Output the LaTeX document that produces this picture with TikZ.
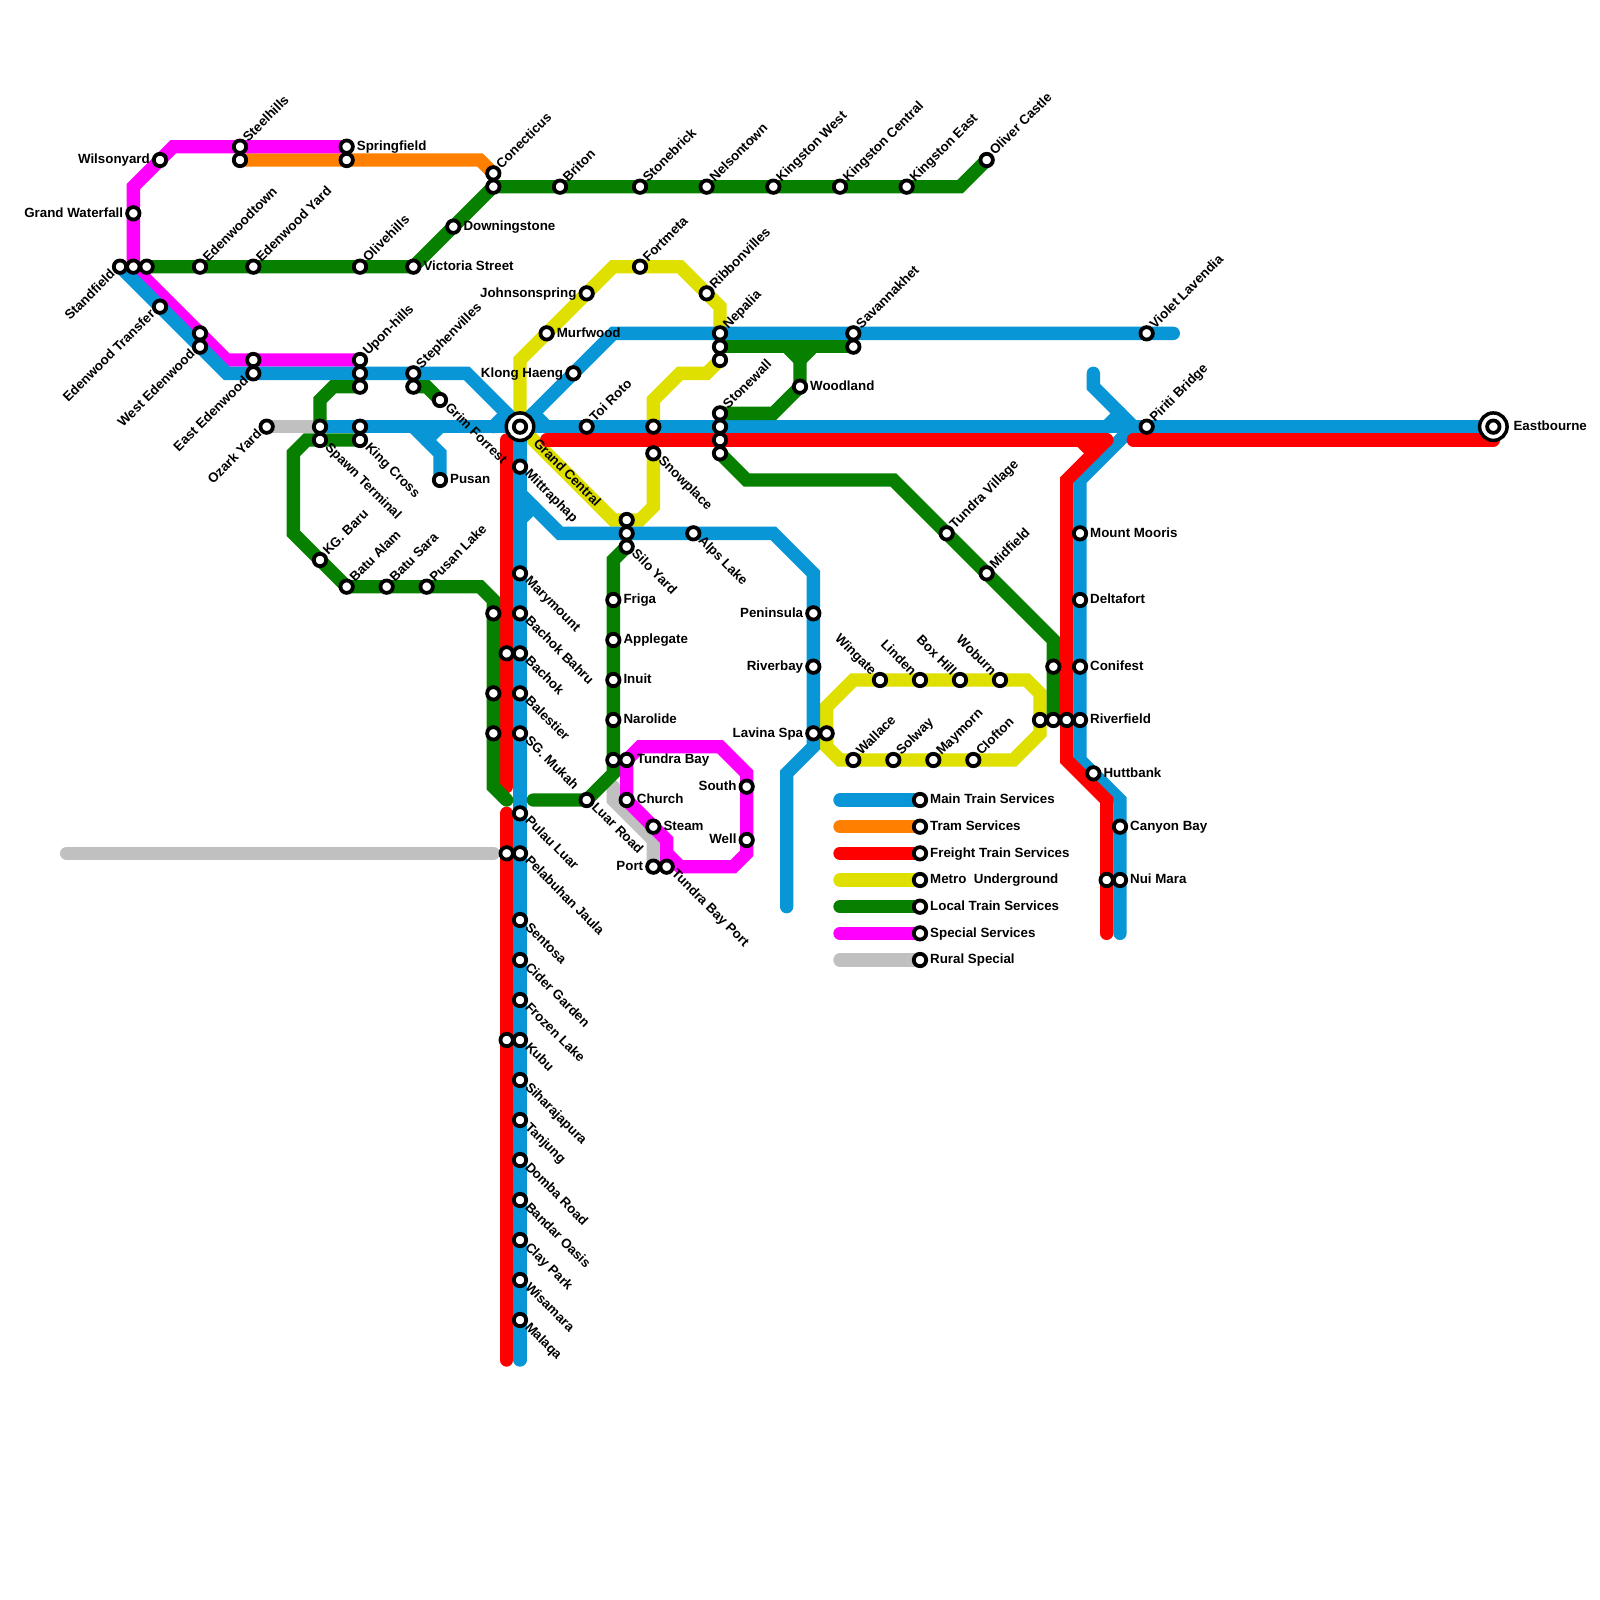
\documentclass[tikz,border=0pt]{standalone}
\usepackage{fontspec}
\setmainfont{Liberation Sans}[BoldFont={* Bold}]
\definecolor{mblue}{HTML}{0896D7}
\definecolor{mgreen}{HTML}{078000}
\definecolor{mred}{HTML}{FF0000}
\definecolor{morange}{HTML}{FF8000}
\definecolor{myellow}{HTML}{E0E000}
\definecolor{mpink}{HTML}{FF00FF}
\definecolor{mgrey}{HTML}{C0C0C0}
\tikzset{
  route/.style={line width=13.333pt,line cap=round,line join=miter,miter limit=10},
  stn/.style={circle,draw=black,fill=white,line width=3.8pt,minimum size=12.4pt,inner sep=0pt},
  hub/.style={circle,draw=black,fill=white,line width=3.5pt,minimum size=27.5pt,inner sep=0pt},
  lbl/.style={font=\bfseries\fontsize{13.333}{14}\selectfont,inner sep=0pt,text height=9.6pt,text depth=0pt,text=black},
  lblR/.style={lbl,anchor=west,xshift=10pt,yshift=1pt},
  lblRR/.style={lbl,anchor=west,xshift=20pt,yshift=1pt},
  lblL/.style={lbl,anchor=east,xshift=-10pt,yshift=1pt},
  lblUR/.style={xshift=4.8pt,yshift=7.4pt,lbl,anchor=west,rotate=45},
  lblDR/.style={xshift=7.8pt,yshift=-4.5pt,lbl,anchor=west,rotate=-45},
  lblDRR/.style={xshift=16pt,yshift=-14pt,lbl,anchor=west,rotate=-45},
  lblDL/.style={xshift=-7.5pt,yshift=-5pt,lbl,anchor=east,rotate=45},
  lblUL/.style={xshift=-5.5pt,yshift=7.2pt,lbl,anchor=east,rotate=-45},
}
\newcommand{\sta}[4]{\node[stn] (s#1-#2) at (#1,#2) {};\node[#3] (t#1-#2) at (#1,#2) {#4};}
\newcommand{\bare}[2]{\node[stn] (s#1-#2) at (#1,#2) {};}
\begin{document}
\begin{tikzpicture}[x=13.3333pt,y=-13.3333pt]
\path[use as bounding box,fill=white] (0,0) rectangle (120,120);
\foreach \x/\y in {20/32,24/32,5/64,37/64,46/59,46/60,49/63,49/65,18/12,36/12,37/13,
 54/25,54/23,51/20,46/20,39/27,39/32,46/39,48/39,49/38,49/34,49/32,49/30,51/28,53/28,54/27,
 62/53,64/51,77/51,78/52,78/55,76/57,63/57,62/56,
 26/11,13/11,10/14,10/20,17/27,27/27,
 50/65,50/63,47/60,47/57,48/56,54/56,56/58,56/64,55/65,51/65,50/64,
 9/20,17/28,35/28,46/25,88/25,112/32,39/102,31/32,33/34,33/36,32/33,33/32,37/32,38/31,40/31,41/32,
 39/37,42/40,58/40,61/43,61/56,59/58,59/68,40/38,39/39,82/28,82/29,85/32,81/36,81/57,84/60,84/70,83/32,84/31,
 11/20,31/20,37/14,72/14,74/12,27/29,25/29,24/30,31/29,32/29,33/30,27/33,23/33,22/34,22/40,26/44,36/44,37/45,37/59,38/60,
 47/41,46/42,46/58,44/60,40/60,54/26,64/26,59/26,60/27,61/26,60/29,58/31,54/31,54/34,56/36,67/36,79/48,79/54,
 38/33,38/59,38/61,38/102,41/33,83/33,80/36,80/57,83/60,83/70,85/33,112/33,81/33,82/34,
 63/60,69/60,63/62,69/62,63/64,69/64,63/66,69/66,63/68,69/68,63/70,69/70,63/72,69/72}
 {\coordinate (c\x-\y) at (\x,\y);}
% grey
\draw[route,mgrey] (c20-32)--(c24-32);
\draw[route,mgrey] (c5-64)--(c37-64);
\draw[route,mgrey] (c46-59)--(c46-60)--(c49-63)--(c49-65);
\draw[route,mgrey] (c63-72)--(c69-72);
% orange
\draw[route,morange] (c18-12)--(c36-12)--(c37-13);
\draw[route,morange] (c63-62)--(c69-62);
% yellow
\draw[route,myellow] (c54-25)--(c54-23)--(c51-20)--(c46-20)--(c39-27)--(c39-32)--(c46-39)--(c48-39)--(c49-38)--(c49-34);
\draw[route,myellow] (c49-32)--(c49-30)--(c51-28)--(c53-28)--(c54-27);
\draw[route,myellow] (c62-53)--(c64-51)--(c77-51)--(c78-52)--(c78-55)--(c76-57)--(c63-57)--(c62-56)--cycle;
\draw[route,myellow] (c63-66)--(c69-66);
% magenta
\draw[route,mpink] (c26-11)--(c13-11)--(c10-14)--(c10-20)--(c17-27)--(c27-27);
\draw[route,mpink] (c50-65)--(c50-63)--(c47-60)--(c47-57)--(c48-56)--(c54-56)--(c56-58)--(c56-64)--(c55-65)--(c51-65)--(c50-64);
\draw[route,mpink] (c63-70)--(c69-70);
% blue
\draw[route,mblue] (c9-20)--(c17-28)--(c35-28)--(c39-32)--(c46-25)--(c88-25);
\draw[route,mblue] (c24-32)--(c112-32);
\draw[route,mblue] (c39-32)--(c39-102);
\draw[route,mblue] (c31-32)--(c33-34)--(c33-36);
\draw[route,mblue] (c32-33)--(c33-32);
\draw[route,mblue] (c37-32)--(c38-31);
\draw[route,mblue] (c40-31)--(c41-32);
\draw[route,mblue] (c39-37)--(c42-40)--(c58-40)--(c61-43)--(c61-56)--(c59-58)--(c59-68);
\draw[route,mblue] (c40-38)--(c39-39);
\draw[route,mblue] (c82-28)--(c82-29)--(c85-32)--(c81-36)--(c81-57)--(c84-60)--(c84-70);
\draw[route,mblue] (c83-32)--(c84-31);
\draw[route,mblue] (c63-60)--(c69-60);
% green
\draw[route,mgreen] (c11-20)--(c31-20)--(c37-14)--(c72-14)--(c74-12);
\draw[route,mgreen] (c27-29)--(c25-29)--(c24-30)--(c24-32);
\draw[route,mgreen] (c31-29)--(c32-29)--(c33-30);
\draw[route,mgreen] (c54-26)--(c64-26);
\draw[route,mgreen] (c59-26)--(c60-27)--(c61-26);
\draw[route,mgreen] (c60-27)--(c60-29)--(c58-31)--(c54-31);
\draw[route,mgreen] (c54-34)--(c56-36)--(c67-36)--(c79-48)--(c79-54);
\draw[route,mgreen] (c47-41)--(c46-42)--(c46-58)--(c44-60)--(c40-60);
\draw[route,mgreen] (c63-68)--(c69-68);
% red
\draw[route,mred] (c38-33)--(c38-59);
\draw[route,mred] (c38-61)--(c38-102);
\draw[route,mred] (c41-33)--(c83-33);
\draw[route,mred] (c83-33)--(c80-36)--(c80-57)--(c83-60)--(c83-70);
\draw[route,mred] (c81-33)--(c82-34);
\draw[route,mred] (c85-33)--(c112-33);
\draw[route,mred] (c63-64)--(c69-64);
\draw[route,mgreen] (c27-33)--(c23-33)--(c22-34)--(c22-40)--(c26-44)--(c36-44)--(c37-45)--(c37-59)--(c38-60);
% hubs
\node[hub] (h39-32) at (c39-32) {};
\node[hub] (h112-32) at (c112-32) {};
% stations
\sta{18}{11}{lblUR}{Steelhills}
\bare{18}{12}
\sta{26}{11}{lblR}{Springfield}
\bare{26}{12}
\sta{12}{12}{lblL}{Wilsonyard}
\sta{10}{16}{lblL}{Grand Waterfall}
\sta{9}{20}{lblDL}{Standfield}
\bare{10}{20}
\bare{11}{20}
\sta{15}{20}{lblUR}{Edenwoodtown}
\sta{19}{20}{lblUR}{Edenwood Yard}
\sta{27}{20}{lblUR}{Olivehills}
\sta{31}{20}{lblR}{Victoria Street}
\sta{34}{17}{lblR}{Downingstone}
\sta{37}{13}{lblUR}{Conecticus}
\bare{37}{14}
\sta{42}{14}{lblUR}{Briton}
\sta{48}{14}{lblUR}{Stonebrick}
\sta{53}{14}{lblUR}{Nelsontown}
\sta{58}{14}{lblUR}{Kingston West}
\sta{63}{14}{lblUR}{Kingston Central}
\sta{68}{14}{lblUR}{Kingston East}
\sta{74}{12}{lblUR}{Oliver Castle}
\sta{12}{23}{lblDL}{Edenwood Transfer}
\bare{15}{25}
\sta{15}{26}{lblDL}{West Edenwood}
\bare{19}{27}
\sta{19}{28}{lblDL}{East Edenwood}
\sta{27}{27}{lblUR}{Upon-hills}
\bare{27}{28}
\bare{27}{29}
\sta{31}{28}{lblUR}{Stephenvilles}
\bare{31}{29}
\sta{33}{30}{lblDR}{Grim Forrest}
\sta{20}{32}{lblDL}{Ozark Yard}
\bare{24}{32}
\sta{24}{33}{lblDR}{Spawn Terminal}
\bare{27}{32}
\sta{27}{33}{lblDR}{King Cross}
\sta{33}{36}{lblR}{Pusan}
\sta{24}{42}{lblUR}{KG. Baru}
\sta{26}{44}{lblUR}{Batu Alam}
\sta{29}{44}{lblUR}{Batu Sara}
\sta{32}{44}{lblUR}{Pusan Lake}
\sta{44}{22}{lblL}{Johnsonspring}
\sta{41}{25}{lblR}{Murfwood}
\sta{43}{28}{lblL}{Klong Haeng}
\sta{48}{20}{lblUR}{Fortmeta}
\sta{53}{22}{lblUR}{Ribbonvilles}
\sta{54}{25}{lblUR}{Nepalia}
\bare{54}{26}
\bare{54}{27}
\sta{64}{25}{lblUR}{Savannakhet}
\bare{64}{26}
\sta{86}{25}{lblUR}{Violet Lavendia}
\sta{60}{29}{lblR}{Woodland}
\sta{54}{31}{lblUR}{Stonewall}
\bare{54}{32}
\bare{54}{33}
\bare{54}{34}
\sta{44}{32}{lblUR}{Toi Roto}
\bare{49}{32}
\sta{49}{34}{lblDR}{Snowplace}
\node[stn] (s39-32) at (c39-32) {};
\node[lblDRR] (t39-32) at (c39-32) {Grand Central};
\node[stn] (s112-32) at (c112-32) {};
\node[lblRR] (t112-32) at (c112-32) {Eastbourne};
\sta{39}{35}{lblDR}{Mittraphap}
\bare{47}{39}
\bare{47}{40}
\sta{47}{41}{lblDR}{Silo Yard}
\sta{52}{40}{lblDR}{Alps Lake}
\sta{71}{40}{lblUR}{Tundra Village}
\sta{74}{43}{lblUR}{Midfield}
\sta{86}{32}{lblUR}{Piriti Bridge}
\sta{81}{40}{lblR}{Mount Mooris}
\sta{81}{45}{lblR}{Deltafort}
\sta{81}{50}{lblR}{Conifest}
\sta{81}{54}{lblR}{Riverfield}
\bare{79}{50}
\bare{78}{54}
\bare{79}{54}
\bare{80}{54}
\sta{82}{58}{lblR}{Huttbank}
\sta{84}{62}{lblR}{Canyon Bay}
\sta{84}{66}{lblR}{Nui Mara}
\bare{83}{66}
\sta{46}{45}{lblR}{Friga}
\sta{46}{48}{lblR}{Applegate}
\sta{46}{51}{lblR}{Inuit}
\sta{46}{54}{lblR}{Narolide}
\bare{46}{57}
\sta{47}{57}{lblR}{Tundra Bay}
\sta{47}{60}{lblR}{Church}
\sta{49}{62}{lblR}{Steam}
\sta{56}{59}{lblL}{South}
\sta{56}{63}{lblL}{Well}
\sta{49}{65}{lblL}{Port}
\sta{50}{65}{lblDR}{Tundra Bay Port}
\sta{44}{60}{lblDR}{Luar Road}
\sta{61}{46}{lblL}{Peninsula}
\sta{61}{50}{lblL}{Riverbay}
\sta{61}{55}{lblL}{Lavina Spa}
\bare{62}{55}
\sta{66}{51}{lblUL}{Wingate}
\sta{69}{51}{lblUL}{Linden}
\sta{72}{51}{lblUL}{Box Hill}
\sta{75}{51}{lblUL}{Woburn}
\sta{64}{57}{lblUR}{Wallace}
\sta{67}{57}{lblUR}{Solway}
\sta{70}{57}{lblUR}{Maymorn}
\sta{73}{57}{lblUR}{Clofton}
\sta{39}{43}{lblDR}{Marymount}
\sta{39}{46}{lblDR}{Bachok Bahru}
\sta{39}{49}{lblDR}{Bachok}
\sta{39}{52}{lblDR}{Balestier}
\sta{39}{55}{lblDR}{SG. Mukah}
\sta{39}{61}{lblDR}{Pulau Luar}
\sta{39}{64}{lblDR}{Pelabuhan Jaula}
\sta{39}{69}{lblDR}{Sentosa}
\sta{39}{72}{lblDR}{Cider Garden}
\sta{39}{75}{lblDR}{Frozen Lake}
\sta{39}{78}{lblDR}{Kubu}
\sta{39}{81}{lblDR}{Siharajapura}
\sta{39}{84}{lblDR}{Tanjung}
\sta{39}{87}{lblDR}{Domba Road}
\sta{39}{90}{lblDR}{Bandar Oasis}
\sta{39}{93}{lblDR}{Clay Park}
\sta{39}{96}{lblDR}{Wisamara}
\sta{39}{99}{lblDR}{Malaqa}
\bare{38}{49}
\bare{38}{64}
\bare{38}{78}
\bare{37}{46}
\bare{37}{52}
\bare{37}{55}
\sta{69}{60}{lblR}{Main Train Services}
\sta{69}{62}{lblR}{Tram Services}
\sta{69}{64}{lblR}{Freight Train Services}
\sta{69}{66}{lblR}{Metro\ \ Underground}
\sta{69}{68}{lblR}{Local Train Services}
\sta{69}{70}{lblR}{Special Services}
\sta{69}{72}{lblR}{Rural Special}
\end{tikzpicture}
\end{document}
